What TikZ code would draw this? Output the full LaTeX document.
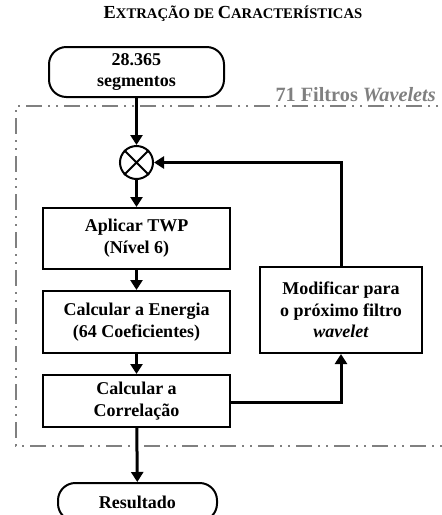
\documentclass[tikz,border=0pt]{standalone}
\usepackage{fontspec}
\setmainfont{Liberation Serif}
\usetikzlibrary{shapes.geometric,shapes.misc}
\usetikzlibrary{arrows.meta}
\newcommand{\smcap}[2]{{\fontsize{13.8}{15}\selectfont #1}{\fontsize{11}{13}\selectfont #2}}
\tikzset{
  procbox/.style={
    % The shape:
    shape=rectangle,
    % The border:
    line width=1.5pt,draw=black,
    % The text:
    align=center,font=\fontsize{13.5}{16.3}\selectfont\bfseries,
    inner sep=0pt
  }}
\tikzset{
  termbox/.style={
    % The shape:
    rectangle,rounded corners=13pt,
    % The rest
    line width=1.5pt,draw=black,align=center,inner sep=0pt,
    font=\fontsize{13.5}{16.3}\selectfont\bfseries}}
\tikzset{
  mixer/.style={circle,line width=1.5pt,draw=black,minimum size=24.75pt,inner sep=0pt},
  flow/.style={line width=2.25pt,->},
  >={Triangle[length=7.5pt,width=9pt]}
}
\definecolor{framegray}{RGB}{128,128,128}

\begin{document}
\begin{tikzpicture}[x=0.75pt,y=-0.75pt]
	\useasboundingbox (0,0) rectangle (442,515);
	% Frame of the loop
	\draw[framegray,line width=1pt,
		dash pattern=on 12pt off 4.5pt on 1.5pt off 4.5pt on 1.5pt off 4.5pt]
		(460,106) -- (16,106) -- (16,446) -- (460,446);
	\node[text=framegray,font=\fontsize{15.2}{17}\selectfont\bfseries,anchor=base east,inner sep=0pt]
		(loop) at (436,101.5) {71 Filtros \textit{Wavelets}};
	\node[font=\bfseries] (title) at (233,14) {\smcap{E}{XTRAÇÃO DE }\smcap{C}{ARACTERÍSTICAS}};
	% Blocks
	\node[termbox,minimum width=131.25pt,minimum height=37.5pt] (seg) at (136.5,72) {28.365\\segmentos};
	\node[mixer] (mix) at (136.5,162.5) {};
	\draw[line width=1.5pt] (mix.north west) -- (mix.south east)
		(mix.north east) -- (mix.south west);
	\node[procbox,minimum width=140.25pt,minimum height=45.75pt] (twp) at (136.5,238.5) {Aplicar TWP\\(Nível 6)};
	\node[procbox,minimum width=140.25pt,minimum height=46.5pt] (ener) at (136.5,322) {Calcular a Energia\\(64 Coeficientes)};
	\node[procbox,minimum width=140.25pt,minimum height=39pt] (corr) at (136.5,401) {Calcular a\\Correlação};
	\node[procbox,minimum width=121.5pt,minimum height=64.5pt] (modif) at (341,310) {Modificar para\\o próximo filtro\\\textit{wavelet}};
	\node[termbox,minimum width=119.25pt,minimum height=28.5pt] (res) at (137.5,502) {Resultado};
	% Lines down the column
	\draw[flow] (seg) -- (mix);
	\draw[flow] (mix) -- (twp);
	\draw[flow] (twp) -- (ener);
	\draw[flow] (ener) -- (corr);
	\draw[flow] (corr) -- (res);
	% Lines of the loop
	\draw[flow] (corr.east |- 0,402) -| (modif);
	\draw[flow] (modif) |- (mix);
\end{tikzpicture}
\end{document}
